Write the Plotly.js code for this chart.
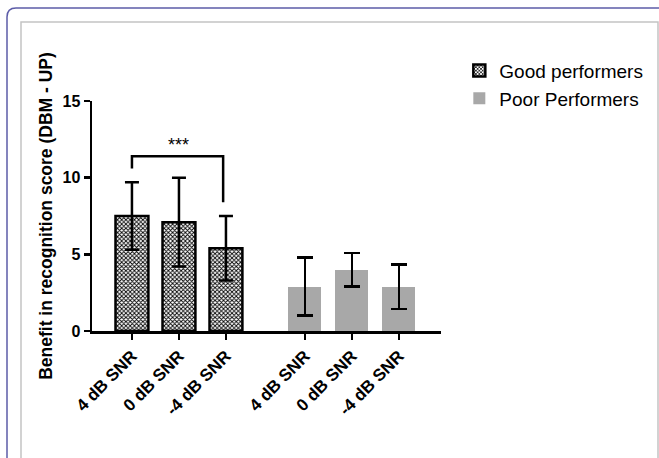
<!DOCTYPE html>
<html>
<head>
<meta charset="utf-8">
<script src="https://cdn.plot.ly/plotly-3.0.1.min.js"></script>
<style>html,body{margin:0;padding:0;background:#fff;}#chart{width:659px;height:458px;}</style>
</head>
<body>
<div id="chart"></div>
<script>
// ---- data ----
const conditions = ["4 dB SNR", "0 dB SNR", "-4 dB SNR"];
const goodMeans = [7.5, 7.1, 5.4];
const goodSD = [2.2, 2.9, 2.1];
const poorMeans = [2.9, 4.0, 2.9];
const poorSD = [1.9, 1.1, 1.45];
const groupNames = ["Good performers", "Poor Performers"];
const yTicks = [0, 5, 10, 15];
// significance bracket: from condition index to index, top height, leg ends
const sigFromTo = [0, 2];
const sigHeights = [11.4, 10.6, 8.4];
const sigLabel = "***";

// ---- layout helpers ----
const W = 659, H = 458;
const L = 92, R = 441, T = 101, B = 331;
const groupOffset = 3.68;
const xRange = [-0.85, 6.575];
const yRange = [0, 15];
const px = x => (x - L) / (R - L);
const py = y => (B - y) / (B - T);

const xGood = conditions.map((c, i) => i);
const xPoor = conditions.map((c, i) => i + groupOffset);

const font = "Liberation Sans, Arial, Helvetica, sans-serif";

const traces = [
  {
    type: "bar", name: groupNames[0], x: xGood, y: goodMeans, width: 0.7,
    marker: {
      color: "#ffffff",
      line: {color: "#000", width: 2.5},
      pattern: {shape: "x", size: 3, solidity: 0.5, fgcolor: "#000", bgcolor: "#ffffff"}
    },
    error_y: {type: "data", array: goodSD, visible: true, color: "#000", thickness: 2.5, width: 7}
  },
  {
    type: "bar", name: groupNames[1], x: xPoor, y: poorMeans, width: 0.7,
    marker: {color: "#a8a8a8", line: {width: 0}},
    error_y: {type: "data", array: poorSD, visible: true, color: "#000", thickness: 2.5, width: 8}
  }
];

const shapes = [
  // outer rounded frame
  {type: "path", xref: "paper", yref: "paper", layer: "below",
   path: `M ${px(7)},${py(470)} L ${px(7)},${py(17)} Q ${px(7)},${py(8)} ${px(16)},${py(8)} L ${px(670)},${py(8)}`,
   line: {color: "#5c5ca8", width: 1.5}},
  // inner frame
  {type: "path", xref: "paper", yref: "paper", layer: "below",
   path: `M ${px(21)},${py(470)} L ${px(21)},${py(22)} L ${px(658)},${py(22)} L ${px(658)},${py(470)}`,
   line: {color: "#c4c4c4", width: 1.5}},
  // significance bracket
  {type: "path", xref: "x", yref: "y",
   path: `M ${sigFromTo[0]},${sigHeights[1]} L ${sigFromTo[0]},${sigHeights[0]} L ${sigFromTo[1] - 0.06},${sigHeights[0]} L ${sigFromTo[1] - 0.06},${sigHeights[2]}`,
   line: {color: "#000", width: 2.5}}
];

const layout = {
  width: W, height: H,
  margin: {l: L, r: W - R, t: T, b: H - B, pad: 0},
  paper_bgcolor: "#fff", plot_bgcolor: "#fff",
  font: {family: font, color: "#000"},
  showlegend: true,
  legend: {
    x: 0.697, y: 0.887, xref: "container", yref: "container", xanchor: "left", yanchor: "top",
    font: {family: font, size: 19, color: "#000"}, bgcolor: "rgba(0,0,0,0)", tracegroupgap: 2
  },
  xaxis: {
    range: xRange, showgrid: false, zeroline: false,
    showline: true, linecolor: "#000", linewidth: 2.5,
    tickmode: "array", tickvals: xGood.concat(xPoor), ticktext: conditions.concat(conditions),
    ticks: "outside", ticklen: 6, tickwidth: 2.5, tickcolor: "#000",
    tickangle: -45, tickfont: {family: font, size: 17, weight: "bold", color: "#000"}
  },
  yaxis: {
    range: yRange, showgrid: false, zeroline: false,
    showline: true, linecolor: "#000", linewidth: 2.5,
    tickmode: "array", tickvals: yTicks,
    ticks: "outside", ticklen: 6, tickwidth: 2.5, tickcolor: "#000",
    tickfont: {family: font, size: 16, weight: "bold", color: "#000"},
    title: {text: "Benefit in recognition score (DBM - UP)", standoff: 6,
            font: {family: font, size: 17.5, weight: "bold", color: "#000"}}
  },
  shapes: shapes,
  annotations: [
    {xref: "x", yref: "y", x: (sigFromTo[0] + sigFromTo[1]) / 2, y: sigHeights[0],
     text: sigLabel, showarrow: false, yanchor: "bottom", yshift: -1,
     font: {family: font, size: 18, color: "#000"}}
  ],
  bargap: 0
};

Plotly.newPlot("chart", traces, layout, {displayModeBar: false, staticPlot: true});
</script>
</body>
</html>
